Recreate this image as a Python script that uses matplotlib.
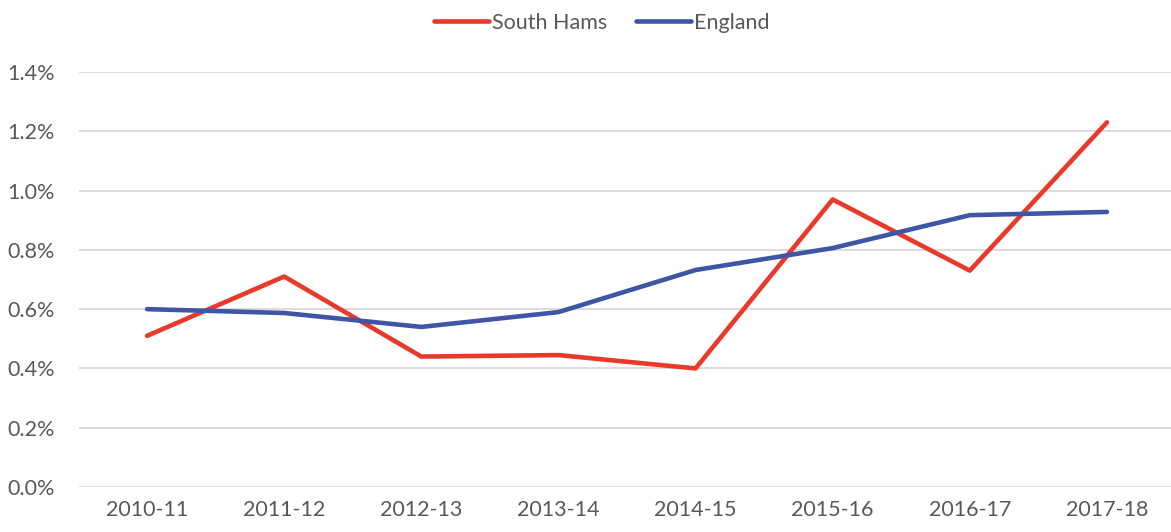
import matplotlib
matplotlib.use('Agg')
import matplotlib.pyplot as plt
from matplotlib.ticker import FuncFormatter

# Data
years = ['2010-11', '2011-12', '2012-13', '2013-14', '2014-15', '2015-16', '2016-17', '2017-18']
south_hams = [0.51, 0.71, 0.44, 0.445, 0.40, 0.97, 0.73, 1.23]
england = [0.60, 0.587, 0.54, 0.59, 0.732, 0.806, 0.917, 0.928]

plt.rcParams['font.family'] = ['Lato', 'DejaVu Sans']
txt = '#595959'

fig = plt.figure(figsize=(11.71, 5.32), dpi=100)
ax = fig.add_axes([78.5 / 1171, 45 / 532, 1097 / 1171, 415 / 532])

x = range(len(years))
ax.plot(x, south_hams, color='#E8392B', lw=3.3, solid_capstyle='round',
        solid_joinstyle='round', label='South Hams', clip_on=False, zorder=3)
ax.plot(x, england, color='#3F55A5', lw=3.3, solid_capstyle='round',
        solid_joinstyle='round', label='England', clip_on=False, zorder=3)

ax.set_xlim(-0.5, 7.5)
ax.set_ylim(0, 1.4)
ax.set_yticks([0, 0.2, 0.4, 0.6, 0.8, 1.0, 1.2, 1.4])
ax.yaxis.set_major_formatter(FuncFormatter(lambda v, p: f'{v:.1f}%'))
ax.set_xticks(list(x))
ax.set_xticklabels(years)
ax.grid(axis='y', color='#D9D9D9', lw=1.3)
ax.set_axisbelow(True)
for s in ax.spines.values():
    s.set_visible(False)
ax.tick_params(length=0, labelsize=15.5, colors=txt, pad=9)
ax.tick_params(axis='y', pad=17)

leg = fig.legend(loc='upper center', bbox_to_anchor=(0.514, 1.012), ncol=2, frameon=False,
                 fontsize=15.5, handlelength=2.55, handletextpad=0.15, columnspacing=1.35)
for t in leg.get_texts():
    t.set_color(txt)

fig.savefig('out.png', dpi=100)
